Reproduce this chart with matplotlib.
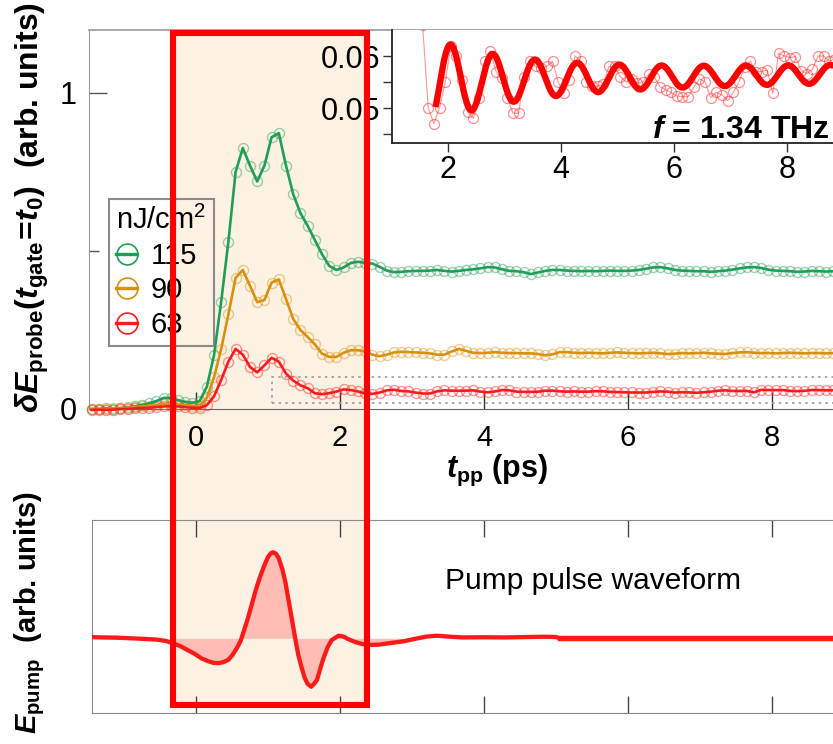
import numpy as np
import matplotlib
matplotlib.use('Agg')
import matplotlib.pyplot as plt
from matplotlib.lines import Line2D
from matplotlib.patches import Rectangle
import matplotlib.transforms as mtransforms

plt.rcParams['font.family'] = ['Liberation Sans', 'DejaVu Sans']
plt.rcParams['mathtext.fontset'] = 'custom'
plt.rcParams['mathtext.rm'] = 'Liberation Sans:bold'
plt.rcParams['mathtext.it'] = 'Liberation Sans:italic:bold'
plt.rcParams['mathtext.bf'] = 'Liberation Sans:bold'
plt.rcParams['mathtext.sf'] = 'Liberation Sans'

# ---------------- data ----------------
# pump-probe delay grid (ps)
t_pp = -1.45 + 0.1 * np.arange(104)

fluence_labels = ['115', '90', '63']
fluence_colors = ['#1f9e55', '#d8900e', '#ff1a1a']

sig_115 = [0.0, 0.0, 0.002, 0.0, 0.003, 0.005, 0.008, 0.012,
           0.018, 0.025, 0.035, 0.035, 0.028, 0.022, 0.02, 0.025,
           0.07, 0.17, 0.34, 0.53, 0.75, 0.826, 0.77, 0.72, 0.77, 0.86,
           0.873, 0.77, 0.68, 0.62, 0.58, 0.535, 0.49, 0.453, 0.44, 0.448,
           0.462, 0.466, 0.462, 0.46, 0.45, 0.438, 0.433,
           0.434, 0.436, 0.437, 0.437, 0.438, 0.440, 0.437, 0.435, 0.437, 0.440,
           0.442, 0.445, 0.449, 0.448, 0.442, 0.437, 0.436, 0.433, 0.427, 0.432,
           0.437, 0.440, 0.440, 0.438, 0.437, 0.436, 0.437, 0.436, 0.437, 0.438,
           0.437, 0.437, 0.438, 0.440, 0.444, 0.448, 0.449, 0.445, 0.440, 0.438,
           0.437, 0.436, 0.436, 0.434, 0.436, 0.438, 0.441, 0.445, 0.448, 0.449,
           0.446, 0.441, 0.438, 0.437, 0.436, 0.434, 0.435, 0.437, 0.436, 0.435,
           0.436]

sig_90 = [0.0, 0.0, 0.0, 0.002, 0.003, 0.004, 0.006, 0.008,
          0.010, 0.013, 0.016, 0.018, 0.015, 0.012, 0.010, 0.010,
          0.035, 0.10, 0.19, 0.30, 0.415, 0.44, 0.39, 0.338, 0.345, 0.40,
          0.41, 0.348, 0.285, 0.25, 0.228, 0.205, 0.175, 0.165, 0.165, 0.178,
          0.186, 0.186, 0.182, 0.172, 0.167, 0.172, 0.179,
          0.181, 0.180, 0.179, 0.178, 0.176, 0.172, 0.172, 0.182, 0.190, 0.184,
          0.178, 0.177, 0.178, 0.180, 0.178, 0.177, 0.177, 0.176, 0.176, 0.174,
          0.170, 0.173, 0.180, 0.180, 0.178, 0.177, 0.178, 0.177, 0.176, 0.178,
          0.179, 0.178, 0.177, 0.176, 0.177, 0.178, 0.176, 0.174, 0.175, 0.177,
          0.176, 0.177, 0.178, 0.176, 0.175, 0.174, 0.177, 0.179, 0.180, 0.178,
          0.177, 0.177, 0.176, 0.177, 0.178, 0.177, 0.176, 0.177, 0.177, 0.176,
          0.177]

sig_63 = [-0.003, -0.002, -0.003, -0.002, 0.0, 0.0, 0.002, 0.003,
          0.004, 0.006, 0.008, 0.009, 0.008, 0.006, 0.004, 0.003,
          0.012, 0.04, 0.092, 0.15, 0.19, 0.172, 0.133, 0.116, 0.138, 0.162,
          0.15, 0.112, 0.09, 0.075, 0.066,
          0.050, 0.047, 0.050, 0.055, 0.062, 0.060, 0.0554, 0.0492, 0.048, 0.052,
          0.059, 0.061, 0.057, 0.0557, 0.052, 0.049, 0.049, 0.056, 0.059, 0.058,
          0.0577, 0.058, 0.059, 0.055, 0.0528, 0.0554, 0.060, 0.059, 0.055, 0.0542,
          0.0542, 0.0547, 0.058, 0.058, 0.056, 0.055, 0.0555, 0.0548, 0.055, 0.0565,
          0.056, 0.0541, 0.0535, 0.053, 0.0523, 0.0522, 0.0522, 0.054, 0.0556, 0.055,
          0.052, 0.053, 0.0525, 0.0514, 0.053, 0.055, 0.0578, 0.059, 0.057, 0.057,
          0.0573, 0.0528, 0.0605, 0.060, 0.0597, 0.0599, 0.0572, 0.0566, 0.0575, 0.060,
          0.060, 0.059, 0.0595]

signals = [sig_115, sig_90, sig_63]

# damped-oscillation fit of the 63 nJ/cm2 trace
fit_freq = 1.34          # THz
fit_t_peak = 2.05        # ps
fit_amp0 = 0.0052
fit_tau = 1.6            # ps
fit_amp_inf = 0.0017
fit_offset = 0.0553
fit_drift = 0.00018      # per ps
fit_t_start, fit_t_end = 1.78, 8.85

# pump THz field waveform (arb. units)
pump_t = [-1.51, -1.3, -1.1, -0.9, -0.7, -0.55, -0.42, -0.32, -0.22, -0.12,
          -0.02, 0.08, 0.17, 0.24, 0.31, 0.38, 0.45, 0.51, 0.57, 0.62,
          0.67, 0.72, 0.77, 0.83, 0.89, 0.95, 1.0, 1.04, 1.07, 1.11,
          1.15, 1.2, 1.24, 1.28, 1.33, 1.38, 1.42, 1.47, 1.51, 1.55,
          1.6, 1.64, 1.68, 1.72, 1.77, 1.83, 1.885, 1.98, 2.05, 2.11,
          2.2, 2.3, 2.4, 2.55, 2.7, 2.88, 3.05, 3.2, 3.35, 3.5,
          3.7, 4.0, 4.3, 4.6, 4.85, 5.0, 5.05, 5.3, 8.85]
pump_e = [0.015, 0.01, 0.007, 0.0, -0.008, -0.015, -0.03, -0.058, -0.09, -0.135,
          -0.18, -0.235, -0.266, -0.285, -0.29, -0.278, -0.25, -0.19, -0.11, -0.03,
          0.10, 0.23, 0.38, 0.56, 0.716, 0.85, 0.945, 0.99, 1.0, 0.985,
          0.93, 0.80, 0.66, 0.47, 0.23, -0.01, -0.19, -0.35, -0.46, -0.53,
          -0.563, -0.53, -0.485, -0.37, -0.233, -0.10, -0.02, 0.03, 0.02, -0.008,
          -0.04, -0.065, -0.078, -0.073, -0.055, -0.035, -0.005, 0.02, 0.03, 0.02,
          0.01, 0.012, 0.01, 0.015, 0.018, 0.015, 0.0, 0.0, 0.0]
pump_fill_range = (-0.4, 2.88)

# ---------------- layout ----------------
W, H = 833, 744
fig = plt.figure(figsize=(W / 100, H / 100), dpi=100)


def px_axes(x0, y0, x1, y1, **kw):
    return fig.add_axes([x0 / W, 1 - y1 / H, (x1 - x0) / W, (y1 - y0) / H], **kw)


X_ZERO, PX_PER_PS = 196.0, 72.0
ax = px_axes(89, 30, 833, 409)
ax2 = px_axes(92, 520, 833, 713)
axin = px_axes(392, 30, 833, 143)

for a in (ax, ax2):
    a.set_facecolor('none')

# highlighted excitation window spanning both panels
blend = mtransforms.blended_transform_factory(ax.transData, fig.transFigure)
win_x0, win_x1 = -0.32, 2.375
win_y0, win_y1 = 1 - 705 / H, 1 - 33 / H
fig.add_artist(Rectangle((win_x0, win_y0), win_x1 - win_x0, win_y1 - win_y0,
                         transform=blend, facecolor='#fdf1e4', edgecolor='none',
                         zorder=-5))
fig.add_artist(Rectangle((win_x0, win_y0), win_x1 - win_x0, win_y1 - win_y0,
                         transform=blend, facecolor='none', edgecolor='#ff0000',
                         linewidth=4.4, joinstyle='miter', zorder=50))

# ---------------- main panel ----------------
for sig, col in zip(signals, fluence_colors):
    ax.plot(t_pp, sig, ls='none', marker='o', ms=7.2, mfc='none',
            mec=col, mew=1.0, alpha=0.45, clip_on=False, zorder=3)
    ax.plot(t_pp, sig, color=col, lw=1.9, clip_on=False, zorder=4)

ax.add_patch(Rectangle((1.05, 0.02), 9.0, 0.08, facecolor='none',
                       edgecolor='#9a9a9a', lw=1.2, ls=(0, (1.5, 2.5)), zorder=2))

ax.set_xlim((89 - X_ZERO) / PX_PER_PS, (833 - X_ZERO) / PX_PER_PS)
ax.set_ylim(0, 379 / 316)
ax.set_xticks([0, 2, 4, 6, 8])
ax.set_xticklabels(['0', '2', '4', '6', '8'])
ax.set_yticks([0, 1])
ax.set_yticklabels(['0', '1'])
ax.set_yticks([0.5], minor=True)
ax.tick_params(axis='x', direction='in', length=12, width=1, color='#333333',
               labelsize=21, pad=11)
ax.tick_params(axis='y', which='major', direction='in', length=13, width=1,
               color='#555555', labelsize=22, pad=9)
ax.tick_params(axis='y', which='minor', direction='in', length=7, width=1,
               color='#555555')
ax.spines['right'].set_visible(False)
ax.spines['left'].set_color('#9a9a9a')
ax.spines['top'].set_color('#a8a8a8')
ax.spines['top'].set_linewidth(1.4)
ax.spines['bottom'].set_color('#666666')

fig.text(497 / W, 1 - 470 / H, r'$t_{\mathrm{pp}}$ (ps)', ha='center', va='center',
         fontsize=22, fontweight='bold')

handles = [Line2D([], [], color=c, lw=2.4, marker='o', ms=15, mfc='none',
                  mec=c, mew=1.2) for c in fluence_colors]
leg = ax.legend(handles, fluence_labels, title=r'nJ/cm$^{\mathsf{2}}$',
                loc='upper left', bbox_to_anchor=(109 / W, 1 - 199 / H),
                bbox_transform=fig.transFigure, borderaxespad=0,
                fontsize=21, title_fontsize=21, handlelength=0.72,
                handletextpad=0.45, labelspacing=0.22, borderpad=0.25,
                frameon=True, fancybox=False, alignment='left')
leg.get_frame().set_facecolor('none')
leg.get_frame().set_edgecolor('#707070')
leg.get_frame().set_linewidth(1.5)

fig.text(32 / W, 1 - 208 / H,
         r'$\delta E_{\mathrm{probe}}(t_{\mathrm{gate}}\!=\!t_0)$  (arb. units)',
         rotation=90, ha='center', va='center', fontsize=23, fontweight='bold')

# ---------------- inset ----------------
t_arr = np.asarray(t_pp)
s63 = np.asarray(sig_63)
sel = t_arr >= 1.45
axin.plot(t_arr[sel], s63[sel], color='#ff4040', lw=0.8, alpha=0.55, zorder=2)
axin.plot(t_arr[sel], s63[sel], ls='none', marker='o', ms=7.2, mfc='none',
          mec='#ff3030', mew=0.9, alpha=0.55, zorder=3)
t_fit = np.linspace(fit_t_start, fit_t_end, 600)
fit = (fit_offset + fit_drift * (t_fit - fit_t_peak)
       + (fit_amp0 * np.exp(-(t_fit - fit_t_peak) / fit_tau) + fit_amp_inf)
       * np.cos(2 * np.pi * fit_freq * (t_fit - fit_t_peak)))
axin.plot(t_fit, fit, color='#ff0000', lw=4.6, solid_capstyle='butt', zorder=4)

axin.set_xlim(2 - (448 - 392) / 56.5, 2 + (833 - 448) / 56.5)
axin.set_ylim(0.06 - (143 - 56) / 5200, 0.06 + 26 / 5200)
axin.set_xticks([2, 4, 6, 8])
axin.set_xticklabels(['2', '4', '6', '8'])
axin.set_yticks([0.05, 0.06])
axin.set_yticklabels(['0.05', '0.06'])
axin.set_yticks([0.045, 0.055], minor=True)
axin.tick_params(axis='both', which='both', direction='out', length=6.5,
                 width=1, color='#333333', labelsize=22)
axin.tick_params(axis='x', pad=2)
axin.tick_params(axis='y', pad=2)
for s in ('top', 'right'):
    axin.spines[s].set_visible(False)
for s in ('left', 'bottom'):
    axin.spines[s].set_color('#222222')
    axin.spines[s].set_linewidth(1.3)
axin.text(0.993, 0.045, r'$f$ = 1.34 THz', transform=axin.transAxes,
          ha='right', va='baseline', fontsize=23, fontweight='bold', zorder=6)

# ---------------- pump waveform panel ----------------
pt = np.asarray(pump_t)
pe = np.asarray(pump_e)
fm = (pt >= pump_fill_range[0]) & (pt <= pump_fill_range[1])
ax2.fill_between(pt[fm], pe[fm], 0, color='#ffbdb5', lw=0, zorder=1)
ax2.plot(pt, pe, color='#ff1a1a', lw=3.1, zorder=3)
tail = pt >= 5.05
ax2.plot(pt[tail], pe[tail], color='#ff1a1a', lw=3.9, zorder=3)

ax2.set_xlim((92 - X_ZERO) / PX_PER_PS, (833 - X_ZERO) / PX_PER_PS)
ax2.set_ylim(-(713 - 638.3) / 86, (638.3 - 520) / 86)
ax2.set_xticks([0, 2, 4, 6, 8])
ax2.set_yticks([])
ax2.tick_params(axis='x', direction='in', length=12, width=1, color='#444444',
                top=True, labelbottom=False)
ax2.spines['right'].set_visible(False)
for s in ('left', 'top', 'bottom'):
    ax2.spines[s].set_color('#8a8a8a')
ax2.text((445 - X_ZERO) / PX_PER_PS, (638.3 - 581) / 86, 'Pump pulse waveform',
         ha='left', va='center', fontsize=21.5, zorder=5)

fig.text(30 / W, 1 - 613 / H, r'$E_{\mathrm{pump}}$  (arb. units)',
         rotation=90, ha='center', va='center', fontsize=21, fontweight='bold')

fig.savefig('out.png', dpi=100)
